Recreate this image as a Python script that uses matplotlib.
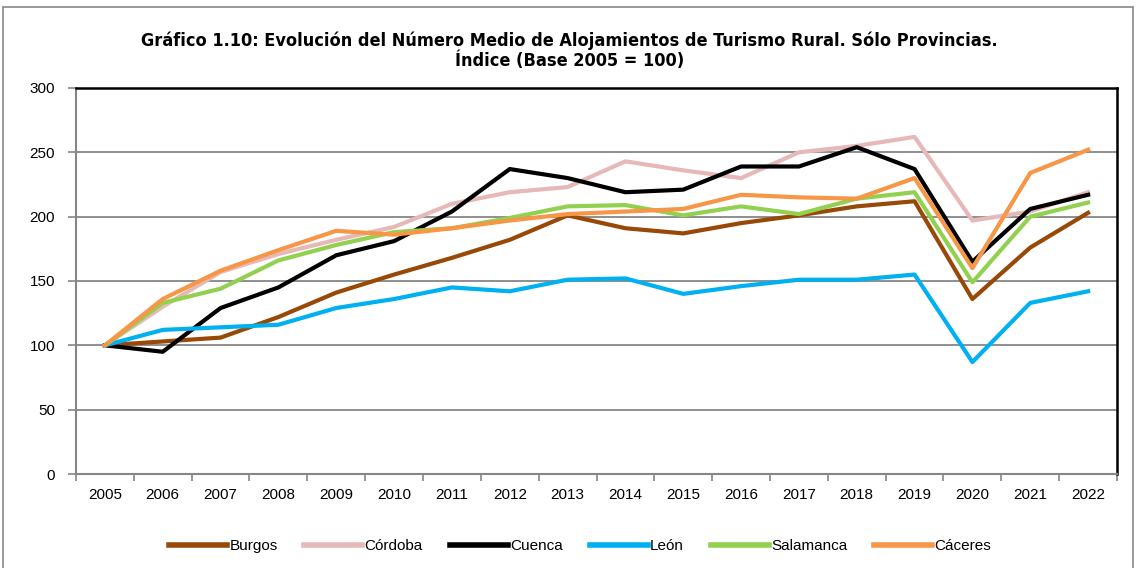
import matplotlib
matplotlib.use("Agg")
import matplotlib.pyplot as plt
from matplotlib.patches import Rectangle
from matplotlib.lines import Line2D

# Data (index, base 2005 = 100)
years = [str(y) for y in range(2005, 2023)]

burgos = [100, 103, 106, 122, 141, 155, 168, 182, 201, 191, 187, 195, 201, 208, 212, 136, 176, 203]
cordoba = [100, 130, 157, 171, 182, 192, 210, 219, 223, 243, 236, 230, 250, 255, 262, 197, 204, 219]
cuenca = [100, 95, 129, 145, 170, 181, 204, 237, 230, 219, 221, 239, 239, 254, 237, 165, 206, 217]
leon = [100, 112, 114, 116, 129, 136, 145, 142, 151, 152, 140, 146, 151, 151, 155, 87, 133, 142]
salamanca = [100, 133, 144, 166, 178, 188, 191, 199, 208, 209, 201, 208, 202, 214, 219, 149, 200, 211]
caceres = [100, 136, 158, 174, 189, 186, 191, 197, 202, 204, 206, 217, 215, 214, 230, 160, 234, 252]

series = {
    "Burgos": (burgos, "#984807"),
    "Córdoba": (cordoba, "#E6B9B8"),
    "Cuenca": (cuenca, "#000000"),
    "León": (leon, "#00B0F0"),
    "Salamanca": (salamanca, "#92D050"),
    "Cáceres": (caceres, "#F79646"),
}

y_ticks = [0, 50, 100, 150, 200, 250, 300]

plt.rcParams["font.family"] = ["Liberation Sans", "DejaVu Sans"]

fig = plt.figure(figsize=(11.39, 5.68), dpi=100)
ax = fig.add_axes([76 / 1139, 1 - 474 / 568, (1117 - 76) / 1139, (474 - 88) / 568])

# outer chart border
fig.patches.append(Rectangle((3 / 1139, -0.05), 1130 / 1139, 1.05 - 7 / 568,
                             transform=fig.transFigure, fill=False,
                             edgecolor="#868686", linewidth=1.2))

x = list(range(len(years)))
for name, (vals, col) in series.items():
    ax.plot(x, vals, color=col, linewidth=3, label=name)

ax.set_xlim(-0.5, len(years) - 0.5)
ax.set_ylim(0, 300)

# category axis: ticks at boundaries, labels at centers
ax.set_xticks([i - 0.5 for i in range(len(years) + 1)])
ax.set_xticklabels([])
ax.set_xticks(x, minor=True)
ax.set_xticklabels(years, minor=True, fontsize=11)
ax.tick_params(axis="x", which="minor", length=0, pad=10)
ax.tick_params(axis="x", which="major", length=5, color="#868686", width=1.2)

ax.set_yticks(y_ticks)
ax.set_yticklabels([str(v) for v in y_ticks], fontsize=11)
ax.tick_params(axis="y", length=6, color="#868686", width=1.2, pad=9)

ax.grid(axis="y", color="#868686", linewidth=1.3)
ax.set_axisbelow(True)

for s in ["left", "bottom"]:
    ax.spines[s].set_color("#868686")
    ax.spines[s].set_linewidth(1.5)
for s in ["top", "right"]:
    ax.spines[s].set_color("#000000")
    ax.spines[s].set_linewidth(1.8)

title_kw = dict(ha="center", va="center", fontsize=13, fontweight="bold",
                family=["DejaVu Sans"], stretch="condensed")
fig.text(0.5, 1 - 41 / 568,
         "Gráfico 1.10: Evolución del Número Medio de Alojamientos de Turismo Rural. Sólo Provincias.",
         **title_kw)
fig.text(0.5, 1 - 61 / 568, "Índice (Base 2005 = 100)", **title_kw)

handles = [Line2D([], [], color=col, linewidth=4) for _, (v, col) in series.items()]
fig.legend(handles, list(series.keys()), loc="center", ncol=6,
           bbox_to_anchor=(580 / 1139, 1 - 546 / 568), frameon=False,
           fontsize=11, handlelength=3.8, handletextpad=0.15, columnspacing=1.75)

fig.savefig("out.png", dpi=100)
